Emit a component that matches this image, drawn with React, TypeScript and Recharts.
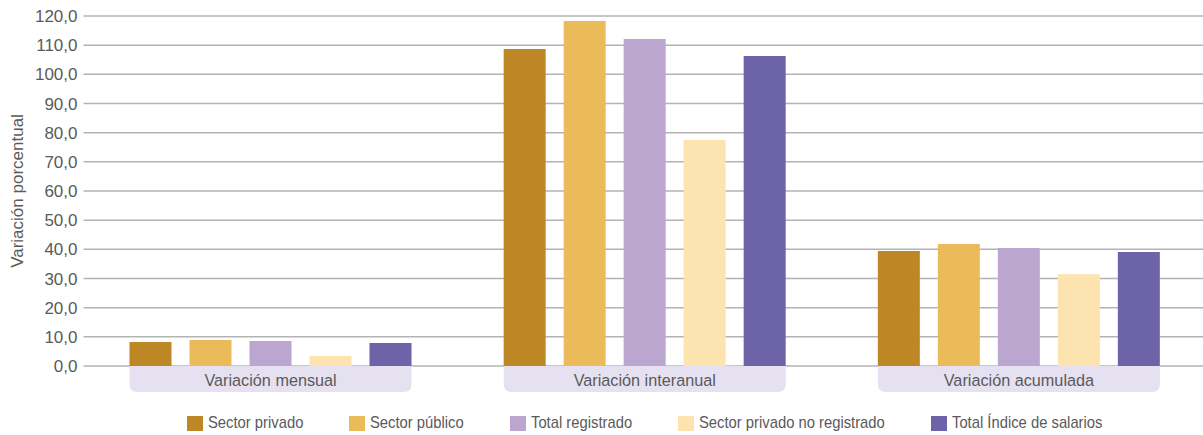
import React from "react";
import { Bar, BarChart, CartesianGrid, Legend, XAxis, YAxis } from "recharts";

// Chart data
const categories = ["Variación mensual", "Variación interanual", "Variación acumulada"];
const sectorPrivado = [8.2, 108.7, 39.4];
const sectorPublico = [8.9, 118.3, 41.8];
const totalRegistrado = [8.6, 112.1, 40.5];
const privadoNoRegistrado = [3.4, 77.5, 31.5];
const totalIndice = [7.9, 106.3, 39.1];
const yTicks = [0, 10, 20, 30, 40, 50, 60, 70, 80, 90, 100, 110, 120];

const series = [
  { key: "privado", name: "Sector privado", color: "#bd8726", values: sectorPrivado },
  { key: "publico", name: "Sector público", color: "#ecbb59", values: sectorPublico },
  { key: "registrado", name: "Total registrado", color: "#bba6d0", values: totalRegistrado },
  { key: "noRegistrado", name: "Sector privado no registrado", color: "#fde3b0", values: privadoNoRegistrado },
  { key: "indice", name: "Total Índice de salarios", color: "#6d63a8", values: totalIndice },
];

const data = categories.map((name, i) => {
  const row: any = { name };
  series.forEach((s) => (row[s.key] = s.values[i]));
  return row;
});

const font = "'Liberation Sans', sans-serif";
const textColor = "#5a5a5a";

// no condensed face installed, so squeeze the regular one
const LEGEND_SQUEEZE = 0.87;
const LABEL_SQUEEZE = 0.955;

let measureCtx: CanvasRenderingContext2D | null = null;
const textWidth = (txt: string, size: number) => {
  if (!measureCtx) measureCtx = document.createElement("canvas").getContext("2d");
  if (!measureCtx) return txt.length * size * 0.5;
  measureCtx.font = `${size}px 'Liberation Sans'`;
  return measureCtx.measureText(txt).width;
};

// Category label in a box with rounded bottom corners
const CategoryTick = (props: any) => {
  const { x, y, payload } = props;
  const w = 282;
  const h = 26;
  const r = 8;
  const l = x - w / 2;
  const rr = x + w / 2;
  const d = `M${l},${y} L${rr},${y} L${rr},${y + h - r} Q${rr},${y + h} ${rr - r},${y + h} L${l + r},${y + h} Q${l},${y + h} ${l},${y + h - r} Z`;
  return (
    <g>
      <path d={d} fill="#e6e1f0" />
      <text
        x={x}
        y={y + 14}
        transform={`translate(${x} 0) scale(${LABEL_SQUEEZE} 1) translate(${-x} 0)`}
        textAnchor="middle"
        dominantBaseline="central"
        fill={textColor}
        fontSize={17}
        fontFamily={font}
      >
        {payload.value}
      </text>
    </g>
  );
};

const LegendContent = () => (
  <div
    style={{
      height: 33,
      paddingLeft: 83,
      display: "flex",
      justifyContent: "center",
      alignItems: "flex-start",
      paddingTop: 13,
      boxSizing: "border-box",
      fontFamily: font,
      fontSize: 17,
      color: textColor,
    }}
  >
    {series.map((s, i) => (
      <div
        key={s.key}
        style={{ display: "flex", alignItems: "center", marginLeft: i === 0 ? 0 : 46 }}
      >
        <span style={{ width: 16, height: 15, background: s.color, marginRight: 5 }} />
        <span style={{ display: "inline-block", width: textWidth(s.name, 17) * LEGEND_SQUEEZE, lineHeight: "16px" }}>
          <span
            style={{
              display: "inline-block",
              whiteSpace: "nowrap",
              transform: `scaleX(${LEGEND_SQUEEZE})`,
              transformOrigin: "left center",
            }}
          >
            {s.name}
          </span>
        </span>
      </div>
    ))}
  </div>
);

const App = () => {
  return (
    <div
      style={{
        position: "absolute",
        left: 0,
        top: 0,
        width: 1203,
        height: 435,
        overflow: "hidden",
        background: "#fff",
      }}
    >
      <BarChart
        width={1206}
        height={435}
        data={data}
        margin={{ top: 16, right: 0, left: 0, bottom: 0 }}
        barGap={18}
        barSize={42}
      >
        <CartesianGrid vertical={false} stroke="#b3b3b3" strokeWidth={1.5} />
        <XAxis
          dataKey="name"
          axisLine={false}
          tickLine={false}
          tickSize={0}
          tickMargin={0}
          height={36}
          interval={0}
          tick={<CategoryTick />}
        />
        <YAxis
          width={83.5}
          domain={[0, 120]}
          ticks={yTicks}
          interval={0}
          axisLine={false}
          tickLine={false}
          tickSize={0}
          tickMargin={6}
          tickFormatter={(v: number) => v.toFixed(1).replace(".", ",")}
          tick={{ fill: textColor, fontSize: 17, fontFamily: font }}
          label={{
            content: (p: any) => {
              const vb = p.viewBox || {};
              const cy = (vb.y || 0) + (vb.height || 0) / 2;
              return (
                <text
                  x={17}
                  y={cy}
                  transform={`rotate(-90 17 ${cy})`}
                  textAnchor="middle"
                  dominantBaseline="central"
                  fill={textColor}
                  fontSize={17}
                  fontFamily={font}
                >
                  Variación porcentual
                </text>
              );
            },
          }}
        />
        <Legend
          verticalAlign="bottom"
          content={<LegendContent />}
          wrapperStyle={{ left: 0, width: 1206 }}
        />
        {series.map((s) => (
          <Bar key={s.key} dataKey={s.key} name={s.name} fill={s.color} isAnimationActive={false} />
        ))}
      </BarChart>
    </div>
  );
};

export default App;
